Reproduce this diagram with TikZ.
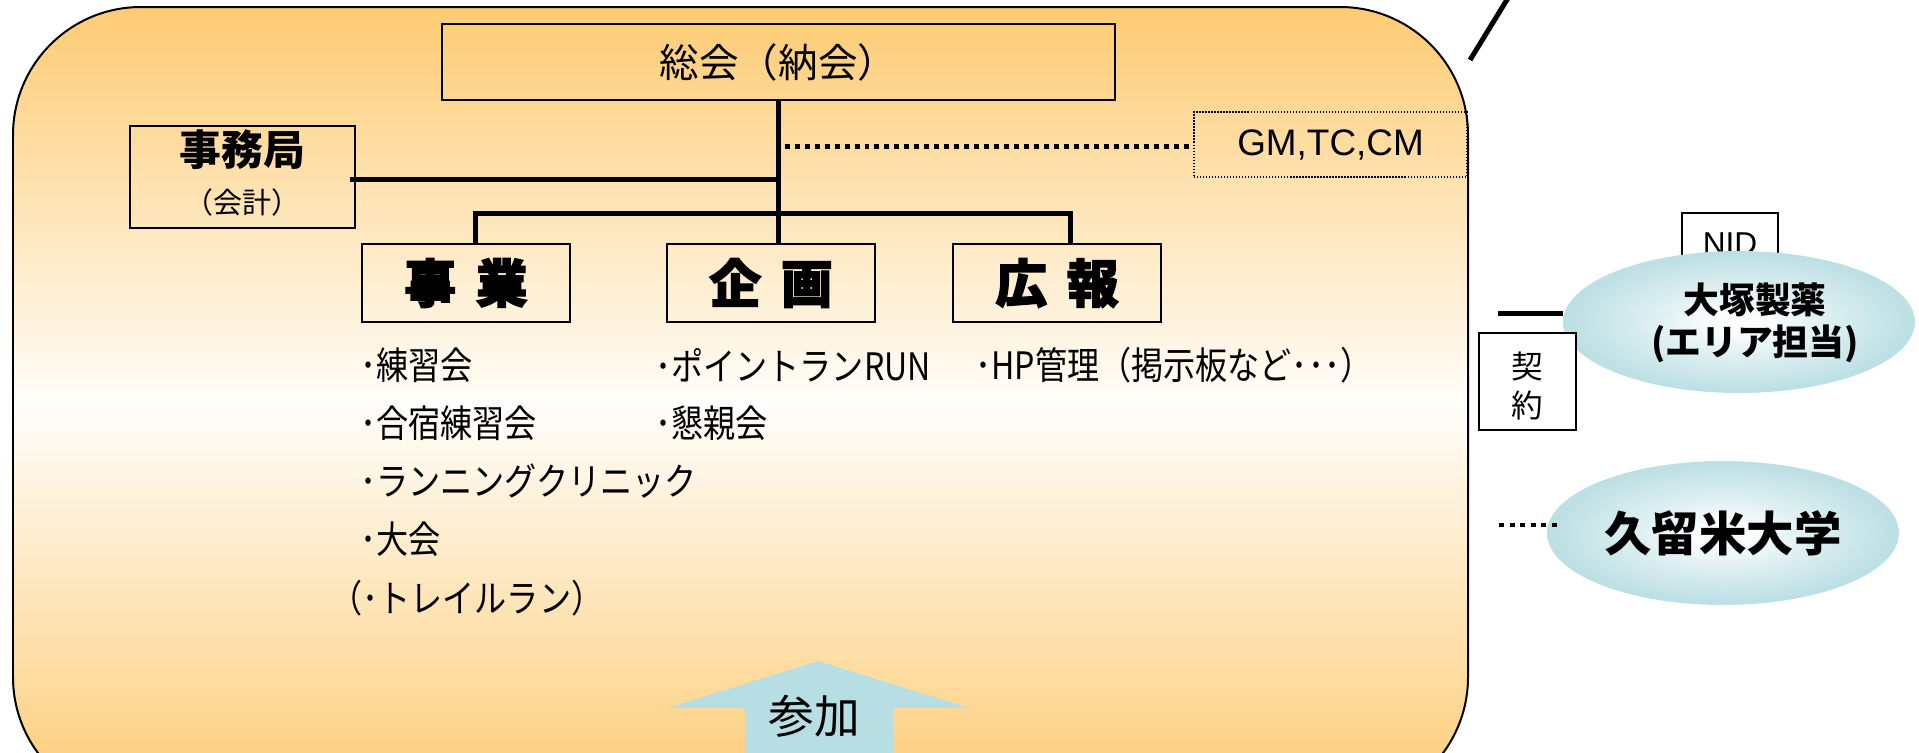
\documentclass[tikz,border=0pt]{standalone}
\usepackage{fontspec}
\usetikzlibrary{shapes.geometric}
\newfontfamily\jp{Noto Sans CJK JP}
\newfontfamily\jpn{Noto Sans CJK JP}[FakeStretch=0.85]
\newfontfamily\jph{Noto Sans CJK JP}[FakeBold=2.5]
\newfontfamily\arialf{Liberation Sans}
\definecolor{org}{RGB}{253,203,115}
\definecolor{eblue}{RGB}{189,224,228}
\definecolor{ablue}{RGB}{183,223,227}
\pgfdeclareradialshading{glow}{\pgfpoint{0bp}{0bp}}{color(0bp)=(white); color(4bp)=(white!92!eblue); color(11bp)=(white!55!eblue); color(24bp)=(eblue); color(50bp)=(eblue)}
\tikzset{
  box/.style={draw, line width=0.03cm, inner sep=0},
  conn/.style={line width=0.1cm},
  dotconn/.style={line width=0.1cm, dash pattern=on 0.1cm off 0.1cm},
  head/.style={font=\jph\bfseries\fontsize{29.5}{32}\selectfont},
  item/.style={anchor=west, inner sep=0, font=\jpn\fontsize{21.5}{24}\selectfont},
  glowell/.style={ellipse, shading=glow, inner sep=0},
}
\begin{document}
\begin{tikzpicture}[x=0.02cm,y=-0.02cm]
\useasboundingbox (0,0) rectangle (1919,752);
\clip (0,0) rectangle (1919,752);
% big rounded area
\path[draw=black, line width=0.04cm, top color=org, bottom color=org, middle color=white!97!org, rounded corners=2.56cm] (13,7) rectangle (1468,805);

% boxes
\node[box, minimum width=13.46cm, minimum height=1.52cm, font=\jp\fontsize{22.5}{26}\selectfont] (soukai) at (778.5,62) {総会（納会）};
\node[box, minimum width=4.5cm, minimum height=2.04cm] (jimu) at (242.5,177) {};
\node[font=\jp\bfseries\fontsize{23.8}{26}\selectfont] (jimut) at (242.5,150) {事務局};
\node[font=\jp\fontsize{16.5}{19}\selectfont] (kaikei) at (242.5,202) {（会計）};
\node[box, line width=0.025cm, densely dotted, minimum width=5.46cm, minimum height=1.3cm, font=\arialf\fontsize{21}{24}\selectfont] (gm) at (1330.5,144.5) {GM,TC,CM};

\node[box, minimum width=4.16cm, minimum height=1.56cm, head] (jigyo) at (466,283) {事\hspace{0.38em}業};
\node[box, minimum width=4.16cm, minimum height=1.56cm, head] (kikaku) at (771,283) {企\hspace{0.38em}画};
\node[box, minimum width=4.16cm, minimum height=1.56cm, head] (kouhou) at (1057,283) {広\hspace{0.38em}報};

% connectors
\coordinate (jy) at (0,179);
\coordinate (dy) at (0,146);
\coordinate (busL) at (475,213);
\coordinate (busR) at (1070,213);
\draw[conn] (soukai.south) -- (soukai.south |- kikaku.north);
\draw[conn] ([xshift=-0.12cm]jimu.east |- jy) -- (soukai.south |- jy);
\draw[conn] (jigyo.north -| busL) -- (busL) -- (busR) -- (kouhou.north -| busR);
\draw[dotconn] ([xshift=0.12cm]soukai.south |- dy) -- (gm.west |- dy);

% lists
\node[item] (l1) at (360,365) {･練習会};
\node[item] (l2) at (360,423) {･合宿練習会};
\node[item] (l3) at (360,481) {･ランニングクリニック};
\node[item] (l4) at (360,539) {･大会};
\node[item] (l5) at (330,598) {（･トレイルラン）};
\node[item] (k1) at (655,365) {･ポイントランRUN};
\node[item] (k2) at (655,423) {･懇親会};
\node[item] (h1) at (975,365) {･HP管理（掲示板など･･･）};

% participation arrow
\fill[ablue] (818,661) -- (969,708) -- (893,708) -- (893,760) -- (745,760) -- (745,708) -- (667,708) -- cycle;
\node[font=\jp\fontsize{26}{30}\selectfont] (sanka) at (814,716) {参加};

% right side
\coordinate (diag1) at (1470,60);
\coordinate (diag2) at (1508,-2);
\draw[line width=0.1cm] (diag1) -- (diag2);

\node[box, fill=white, minimum width=1.92cm, minimum height=1.6cm] (nid) at (1730,253) {};
\node[font=\arialf\fontsize{18}{20}\selectfont] (nidt) at (1730,244) {NID};
\node[glowell, minimum width=7.04cm, minimum height=2.84cm] (otsuka) at (1739,322) {};
\node[font=\jp\bfseries\fontsize{20.4}{23.8}\selectfont, align=center] (otsukat) at (1755,323) {大塚製薬\\(エリア担当)};

\coordinate (kl) at (1498,313);
\draw[conn] (kl) -- (kl -| otsuka.west);
\node[box, fill=white, minimum width=1.94cm, minimum height=1.94cm] (kei) at (1527.5,381.5) {};
\node[font=\jp\fontsize{18}{22}\selectfont] (keit) at (1527.5,366) {契};
\node[font=\jp\fontsize{18}{22}\selectfont] (yakut) at (1527.5,405) {約};

\node[glowell, minimum width=7.04cm, minimum height=2.88cm, font=\jp\bfseries\fontsize{27}{30}\selectfont] (kurume) at (1723,533) {久留米大学};
\coordinate (kd) at (1499,525);
\draw[line width=0.09cm, dash pattern=on 0.1cm off 0.11cm] (kd) -- ([xshift=0.2cm]kd -| kurume.west);
\end{tikzpicture}
\end{document}
